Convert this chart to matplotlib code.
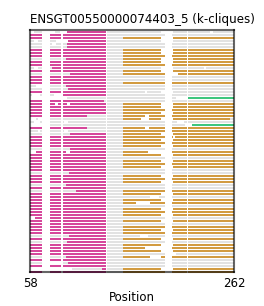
import matplotlib
matplotlib.use('Agg')
import matplotlib.pyplot as plt

# one row per member, 0 = no magenta block
mag_start = [95, 58, 58, 96, 95, 95, 58, 58, 58, 94,
             58, 58, 80, 58, 98, 58, 58, 58, 94, 96,
             58, 91, 0, 58, 58, 58, 58, 58, 58, 0,
             0, 0, 58, 0, 98, 58, 58, 58, 58, 98,
             64, 58, 58, 58, 58, 58, 58, 97, 58, 58,
             58, 94, 58, 104, 58, 58, 58, 58, 58, 58,
             58, 58, 63, 58, 58, 58, 58, 58, 97, 58,
             95, 58, 58, 58, 58, 94, 58, 96, 58, 130,
             58]
mag_end = 135
mag_end_short = {23: 132, 28: 115, 32: 115}

orange_rows = [2, 6, 7, 8, 9, 10, 11, 13, 14, 17, 24, 25, 26, 27, 28, 29, 32, 33,
               34, 35, 36, 37, 38, 40, 41, 43, 44, 45, 48, 49, 50, 53, 54, 56, 57,
               59, 60, 61, 63, 65, 66, 67, 69, 71, 72, 73, 75, 79, 80]
orange_start = 151
orange_end_short = {29: 258}
orange_breaks = {28: [(173, 177)], 29: [(169, 177)], 32: [(173, 177)],
                 40: [(176, 193)], 72: [(173, 199)], 75: [(178, 189)]}

green_start = {22: 215, 31: 220}

# alignment gap columns shared by most rows
common_gaps = [(70, 78), (88.7, 90.7), (134, 134.8), (214.7, 215.7)]
mid_gap_wide = [0, 2, 3, 6, 7, 9, 10, 12, 13, 20, 24, 25, 27, 29, 34, 36, 38, 41,
                43, 45, 48, 50, 54, 56, 59, 61, 63, 66, 69, 71, 73, 79]
extra_gaps = {0: [(58, 62), (75, 83), (88, 95), (237.7, 241)],
              3: [(62, 66), (84, 96)], 4: [(80, 84)], 12: [(62, 66), (232, 234)],
              14: [(197, 206)], 18: [(64, 70)], 20: [(173, 175)],
              21: [(60, 68), (82, 90)], 22: [(58, 70), (78, 95), (204, 215)],
              24: [(83, 86), (95, 98), (198, 200)], 29: [(58, 64), (66, 70)],
              30: [(62, 68), (92, 96), (205, 212)], 31: [(58, 72), (213, 220)],
              33: [(66, 68), (92, 96)], 35: [(197, 199), (201, 203)],
              40: [(58, 64), (94, 98)], 53: [(198, 200)], 55: [(178, 187)],
              57: [(164, 178)], 62: [(58, 63)], 68: [(168, 176)],
              74: [(200, 204)], 77: [(78, 90)], 79: [(58, 70), (78, 100)]}

n_rows = len(mag_start)
gray = '#e2e2e2'
magenta = '#d6479b'
orange = '#d29b41'
green = '#3ec67e'
lw = 1.44  # 2 px

fig = plt.figure(figsize=(2.64, 3.06), dpi=100)
ax = fig.add_axes([30 / 264, 34 / 306, 204 / 264, 242 / 306])

for k in range(n_rows):
    ax.hlines(k, 58, 262, color=gray, lw=lw, clip_on=False)
    if mag_start[k]:
        ax.hlines(k, mag_start[k], mag_end_short.get(k, mag_end), color=magenta, lw=lw, clip_on=False)
    if k in orange_rows:
        ax.hlines(k, orange_start, orange_end_short.get(k, 262), color=orange, lw=lw, clip_on=False)
    if k in green_start:
        ax.hlines(k, green_start[k], 262, color=green, lw=lw, clip_on=False)
    gaps = list(common_gaps)
    gaps.append((188.7, 201) if k in mid_gap_wide else (192.7, 200.3))
    gaps += orange_breaks.get(k, []) + extra_gaps.get(k, [])
    for a, b in gaps:
        ax.hlines(k, a, b, color='white', lw=lw, clip_on=False)

ax.set_xlim(58, 262)
ax.set_ylim(80, -2 / 3)
ax.set_xticks([58, 262])
ax.set_yticks([])
ax.tick_params(axis='x', length=0, pad=3.5, labelsize=8.5)
for s in ax.spines.values():
    s.set_color((0, 0, 0, 0.6))
    s.set_linewidth(1.5)
ax.set_xlabel('Position', fontsize=8.5, labelpad=1)
ax.set_title('ENSGT00550000074403_5 (k-cliques)', fontsize=8.6, loc='left', pad=5)

fig.savefig('out.png', dpi=100)
